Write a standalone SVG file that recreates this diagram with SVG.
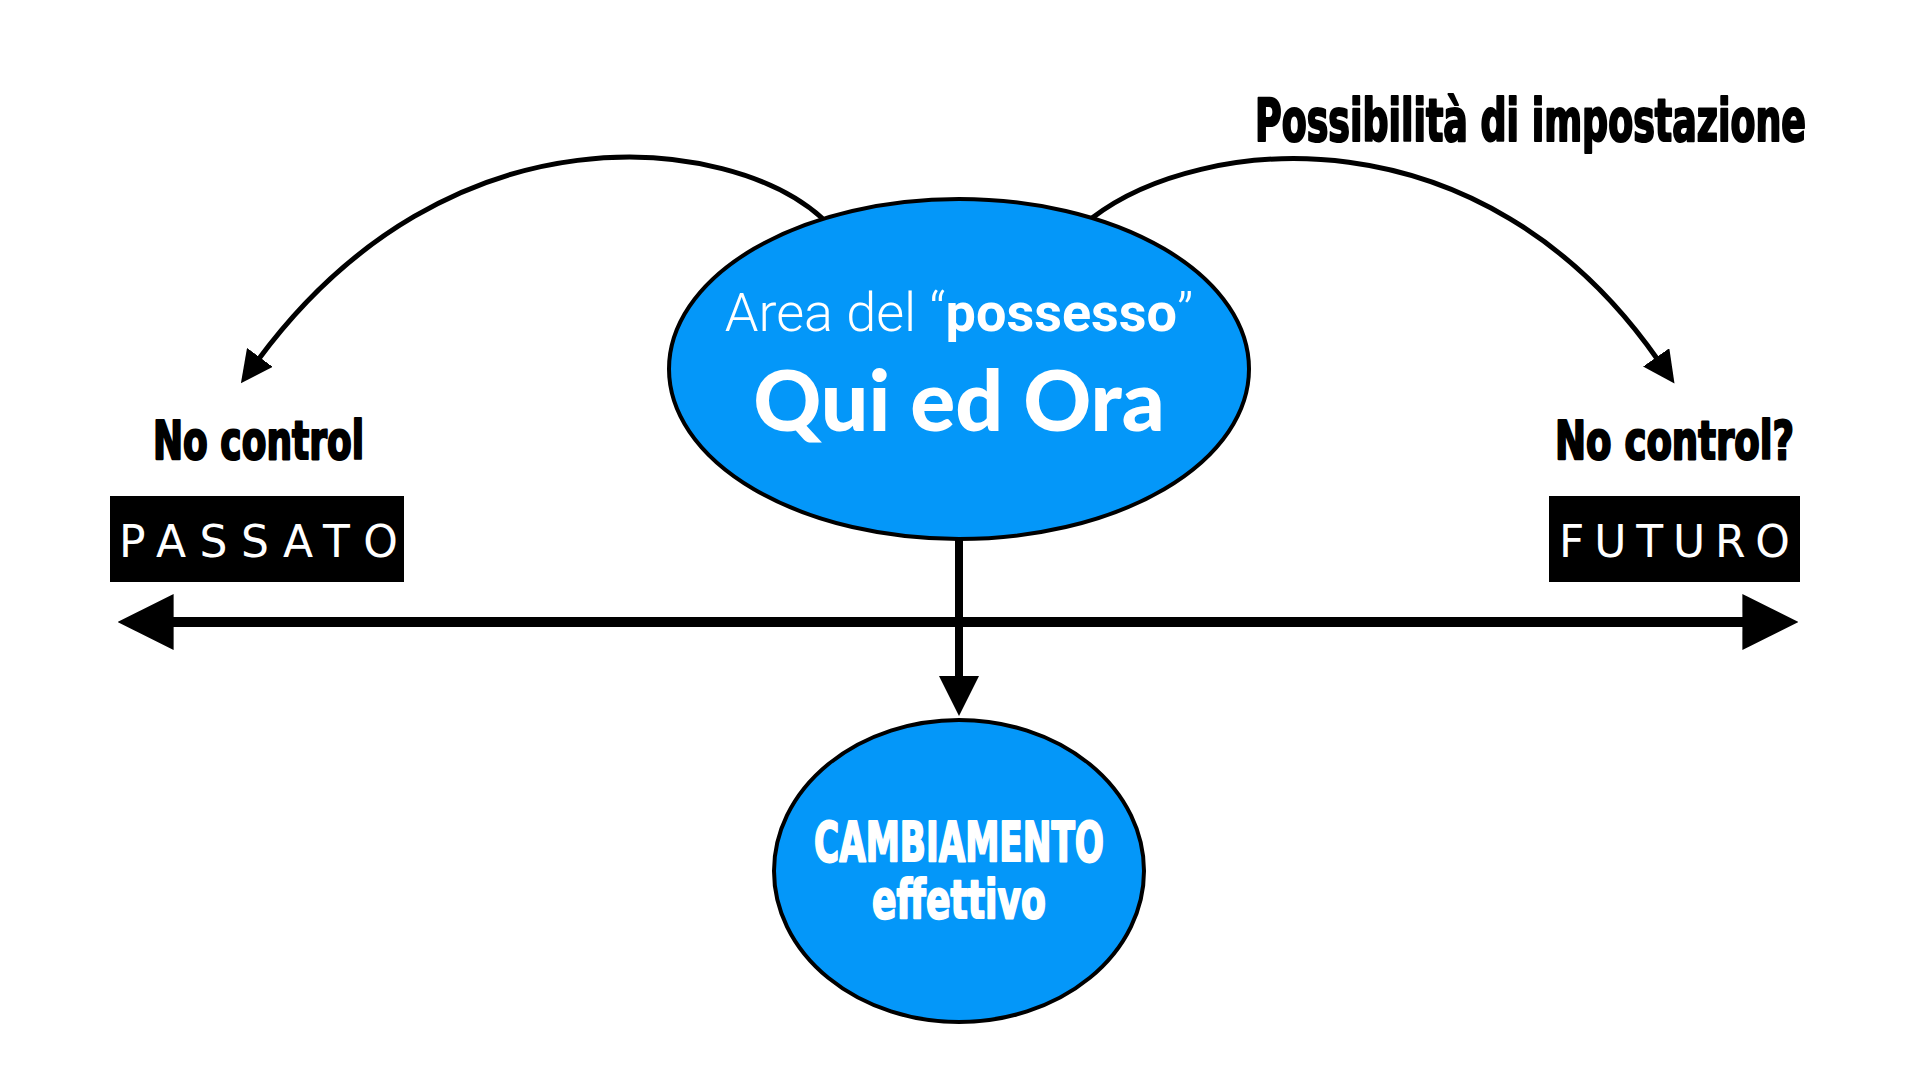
<svg xmlns="http://www.w3.org/2000/svg" width="1920" height="1080" viewBox="0 0 1920 1080">
  <style>
    .node { fill: #0497F9; stroke: #000; stroke-width: 4; }
    .impact { font-family: "Liberation Sans Narrow", "DejaVu Sans Condensed", "Liberation Sans", sans-serif; font-weight: bold; fill: #000; stroke: #000; stroke-width: 2.2; stroke-linejoin: round; }
    .wimpact { font-family: "Liberation Sans Narrow", "DejaVu Sans Condensed", "Liberation Sans", sans-serif; font-weight: bold; fill: #fff; stroke: #fff; stroke-width: 2; stroke-linejoin: round; }
    .stamp { font-family: "DejaVu Sans", sans-serif; font-weight: normal; fill: #fff; }
    .conn { fill: none; stroke: #000; stroke-linecap: round; }
  </style>
  <defs>
    <marker id="ahSmall" markerUnits="userSpaceOnUse" viewBox="0 0 10 10" refX="1" refY="5" markerWidth="32" markerHeight="32" orient="auto">
      <path d="M0,0 L10,5 L0,10 z" fill="#000"/>
    </marker>
    <marker id="ahBig" markerUnits="userSpaceOnUse" viewBox="0 0 10 10" refX="1" refY="5" markerWidth="56" markerHeight="56" orient="auto">
      <path d="M0,0 L10,5 L0,10 z" fill="#000"/>
    </marker>
    <marker id="ahMid" markerUnits="userSpaceOnUse" viewBox="0 0 10 10" refX="1" refY="5" markerWidth="40" markerHeight="44" orient="auto">
      <path d="M0,0 L10,5 L0,10 z" fill="#000"/>
    </marker>
  </defs>
  <rect width="1920" height="1080" fill="#fff"/>

  <g id="connectors">
    <path class="conn" d="M 822 218 C 730 135, 450 100, 258 360" stroke-width="5" marker-end="url(#ahSmall)"/>
    <path class="conn" d="M 1092 218 C 1200 135, 1480 105, 1658 360" stroke-width="5" marker-end="url(#ahSmall)"/>
    <path class="conn" d="M 1750 622 L 168 622" stroke-width="10" marker-end="url(#ahBig)"/>
    <path class="conn" d="M 165 622 L 1748 622" stroke-width="10" marker-end="url(#ahBig)"/>
    <path class="conn" d="M 959 540 L 959 680" stroke-width="8" marker-end="url(#ahMid)"/>
  </g>

  <g id="node-qui-ed-ora">
    <ellipse class="node" cx="959" cy="369" rx="290" ry="170"/>
    <text x="959" y="331" text-anchor="middle" font-family="Roboto, 'Liberation Sans', sans-serif" font-size="54" fill="#fff"><tspan font-weight="300">Area del “</tspan><tspan font-weight="bold">possesso</tspan><tspan font-weight="300">”</tspan></text>
    <text x="959" y="431" text-anchor="middle" font-family="Lato, 'Open Sans', sans-serif" font-weight="900" font-size="84" fill="#fff">Qui ed Ora</text>
  </g>

  <g id="node-cambiamento">
    <ellipse class="node" cx="959" cy="871" rx="185" ry="151"/>
    <text class="wimpact" x="959" y="861" text-anchor="middle" font-size="56" textLength="290" lengthAdjust="spacingAndGlyphs">CAMBIAMENTO</text>
    <text class="wimpact" x="959" y="918" text-anchor="middle" font-size="54" textLength="174" lengthAdjust="spacingAndGlyphs">effettivo</text>
  </g>

  <g id="label-possibilita">
    <text class="impact" x="1255" y="141" font-size="58" textLength="551" lengthAdjust="spacingAndGlyphs">Possibilità di impostazione</text>
  </g>

  <g id="label-no-control-left">
    <text class="impact" x="153" y="459" font-size="54" textLength="211" lengthAdjust="spacingAndGlyphs">No control</text>
  </g>

  <g id="label-no-control-right">
    <text class="impact" x="1555" y="459" font-size="54" textLength="239" lengthAdjust="spacingAndGlyphs">No control?</text>
  </g>

  <g id="node-passato">
    <rect x="110" y="496" width="294" height="86" fill="#000"/>
    <text class="stamp" x="119" y="557" font-size="44" textLength="279" lengthAdjust="spacing">PASSATO</text>
  </g>

  <g id="node-futuro">
    <rect x="1549" y="496" width="251" height="86" fill="#000"/>
    <text class="stamp" x="1559" y="557" font-size="44" textLength="231" lengthAdjust="spacing">FUTURO</text>
  </g>
</svg>
